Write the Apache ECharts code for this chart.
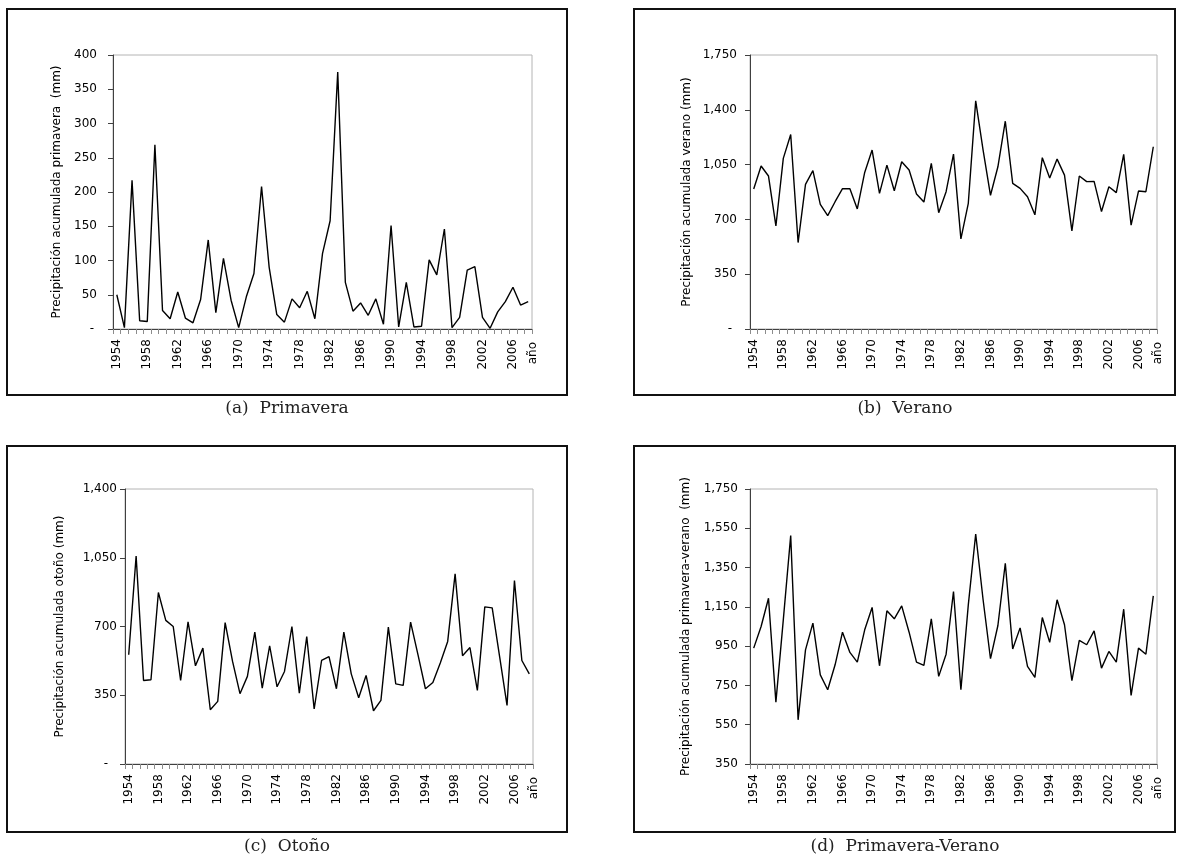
<!DOCTYPE html>
<html>
<head>
<meta charset="utf-8">
<title>Precipitación acumulada por estación, 1954-2008</title>
<script src="https://cdn.jsdelivr.net/npm/echarts@6/dist/echarts.min.js"></script>
<style>
  html, body { margin: 0; padding: 0; background: #ffffff; }
  #chart { width: 1182px; height: 864px; }
</style>
</head>
<body>
<div id="chart"></div>
<script>
// Años de la serie (eje de categorías)
const years = ['1954','1955','1956','1957','1958','1959','1960','1961','1962','1963',
  '1964','1965','1966','1967','1968','1969','1970','1971','1972','1973',
  '1974','1975','1976','1977','1978','1979','1980','1981','1982','1983',
  '1984','1985','1986','1987','1988','1989','1990','1991','1992','1993',
  '1994','1995','1996','1997','1998','1999','2000','2001','2002','2003',
  '2004','2005','2006','2007','2008'];

// Precipitación acumulada (mm) por estación
const primavera = [50, 2, 217, 12, 11, 269, 27, 15, 54, 16,
  9, 43, 130, 24, 103, 42, 2, 47, 81, 208,
  90, 21, 10, 44, 31, 55, 15, 110, 158, 375,
  68, 26, 38, 20, 44, 7, 151, 3, 68, 3,
  4, 101, 79, 146, 2, 17, 86, 91, 17, 1,
  25, 40, 61, 35, 40];

const verano = [894, 1041, 977, 658, 1090, 1242, 552, 924, 1011, 796,
  724, 813, 896, 896, 767, 1000, 1143, 866, 1047, 883,
  1068, 1015, 862, 811, 1058, 743, 877, 1117, 576, 803,
  1457, 1143, 854, 1036, 1327, 930, 898, 845, 729, 1094,
  964, 1085, 983, 627, 977, 941, 943, 750, 909, 871,
  1115, 663, 881, 877, 1164];

const otono = [556, 1059, 425, 429, 873, 731, 700, 425, 724, 500,
  590, 276, 319, 720, 522, 358, 446, 671, 386, 602,
  393, 471, 700, 361, 649, 280, 527, 547, 383, 671,
  459, 337, 451, 271, 324, 697, 408, 400, 722, 556,
  383, 415, 514, 624, 968, 551, 593, 375, 800, 795,
  547, 298, 934, 527, 459];

const primaveraVerano = [940, 1050, 1194, 665, 1084, 1513, 575, 931, 1067, 804,
  728, 855, 1021, 918, 869, 1033, 1147, 850, 1130, 1089,
  1155, 1021, 869, 852, 1089, 796, 909, 1228, 728, 1160,
  1521, 1186, 886, 1055, 1372, 936, 1043, 847, 791, 1096,
  969, 1186, 1059, 774, 979, 957, 1028, 838, 923, 869,
  1138, 699, 940, 909, 1206];

// Escalas del eje vertical de cada panel
const yScales = [
  { min: 0, max: 400, interval: 50 },
  { min: 0, max: 1750, interval: 350 },
  { min: 0, max: 1400, interval: 350 },
  { min: 350, max: 1750, interval: 200 }
];

const yNames = [
  'Precipitación acumulada primavera  (mm)',
  'Precipitación acumulada verano (mm)',
  'Precipitación acumulada otoño (mm)',
  'Precipitación acumulada primavera-verano  (mm)'
];

const captions = ['(a)  Primavera', '(b)  Verano', '(c)  Otoño', '(d)  Primavera-Verano'];
const xName = 'año';

const seriesData = [primavera, verano, otono, primaveraVerano];

// Layout of the four panels
const grids = [
  { left: 113, top: 55, width: 419, height: 274 },
  { left: 750, top: 55, width: 407, height: 274 },
  { left: 125, top: 489, width: 408, height: 275 },
  { left: 750, top: 489, width: 407, height: 275 }
];
const labelMargins = [16, 13, 8, 12];
const dashPad = [3, 5, 9, 0];
const nameGaps = [50, 57, 59, 58];

const boxes = [
  { x: 7, y: 9, width: 560, height: 386 },
  { x: 634, y: 9, width: 541, height: 386 },
  { x: 7, y: 446, width: 560, height: 386 },
  { x: 634, y: 446, width: 541, height: 386 }
];
const captionPos = [[287, 409], [905, 409], [287, 847], [905, 847]];

const axisColor = '#404040';
const font = 'DejaVu Sans';

function fmtNumber(v) {
  return String(v).replace(/\B(?=(\d{3})+(?!\d))/g, ',');
}

const option = {
  animation: false,
  backgroundColor: '#ffffff',
  grid: grids.map(g => Object.assign({
    show: true, borderColor: '#b4b4b4', borderWidth: 1, backgroundColor: 'transparent'
  }, g)),
  xAxis: grids.map((g, i) => ({
    type: 'category',
    gridIndex: i,
    data: years,
    boundaryGap: true,
    name: xName,
    nameLocation: 'end',
    nameRotate: 90,
    nameGap: 1,
    nameTextStyle: {
      fontFamily: font, fontSize: 12, color: '#000',
      align: 'right', verticalAlign: 'middle', padding: [0, 13, 0, 0]
    },
    axisLine: { lineStyle: { color: axisColor, width: 1 } },
    axisTick: { show: true, interval: 0, length: 5, lineStyle: { color: '#8c8c8c' } },
    axisLabel: {
      interval: 3, rotate: 90, margin: 10,
      fontFamily: font, fontSize: 12, color: '#000'
    },
    splitLine: { show: false }
  })),
  yAxis: grids.map((g, i) => ({
    type: 'value',
    gridIndex: i,
    min: yScales[i].min,
    max: yScales[i].max,
    interval: yScales[i].interval,
    name: yNames[i],
    nameLocation: 'middle',
    nameGap: nameGaps[i],
    nameTextStyle: { fontFamily: font, fontSize: 12, color: '#000' },
    axisLine: { show: true, lineStyle: { color: axisColor, width: 1 } },
    axisTick: { show: true, length: 5, lineStyle: { color: axisColor } },
    axisLabel: {
      margin: labelMargins[i],
      fontFamily: font, fontSize: 12, color: '#000',
      formatter: v => (v === 0 ? '{z|-}' : fmtNumber(v)),
      rich: { z: { fontFamily: font, fontSize: 12, color: '#000', padding: [0, dashPad[i], 0, 0] } }
    },
    splitLine: { show: false }
  })),
  series: seriesData.map((d, i) => ({
    type: 'line',
    xAxisIndex: i,
    yAxisIndex: i,
    data: d,
    showSymbol: false,
    symbol: 'none',
    lineStyle: { color: '#000000', width: 1.4 },
    emphasis: { disabled: true }
  })),
  graphic: boxes.map(b => ({
    type: 'rect',
    shape: b,
    style: { fill: 'none', stroke: '#111111', lineWidth: 2 },
    silent: true
  })).concat(captions.map((c, i) => ({
    type: 'text',
    x: captionPos[i][0],
    y: captionPos[i][1],
    style: {
      text: c,
      fontFamily: 'DejaVu Serif',
      fontSize: 17,
      fill: '#222222',
      textAlign: 'center',
      textVerticalAlign: 'middle'
    },
    silent: true
  })))
};

const chart = echarts.init(document.getElementById('chart'), null, { renderer: 'canvas' });
chart.setOption(option);
</script>
</body>
</html>
